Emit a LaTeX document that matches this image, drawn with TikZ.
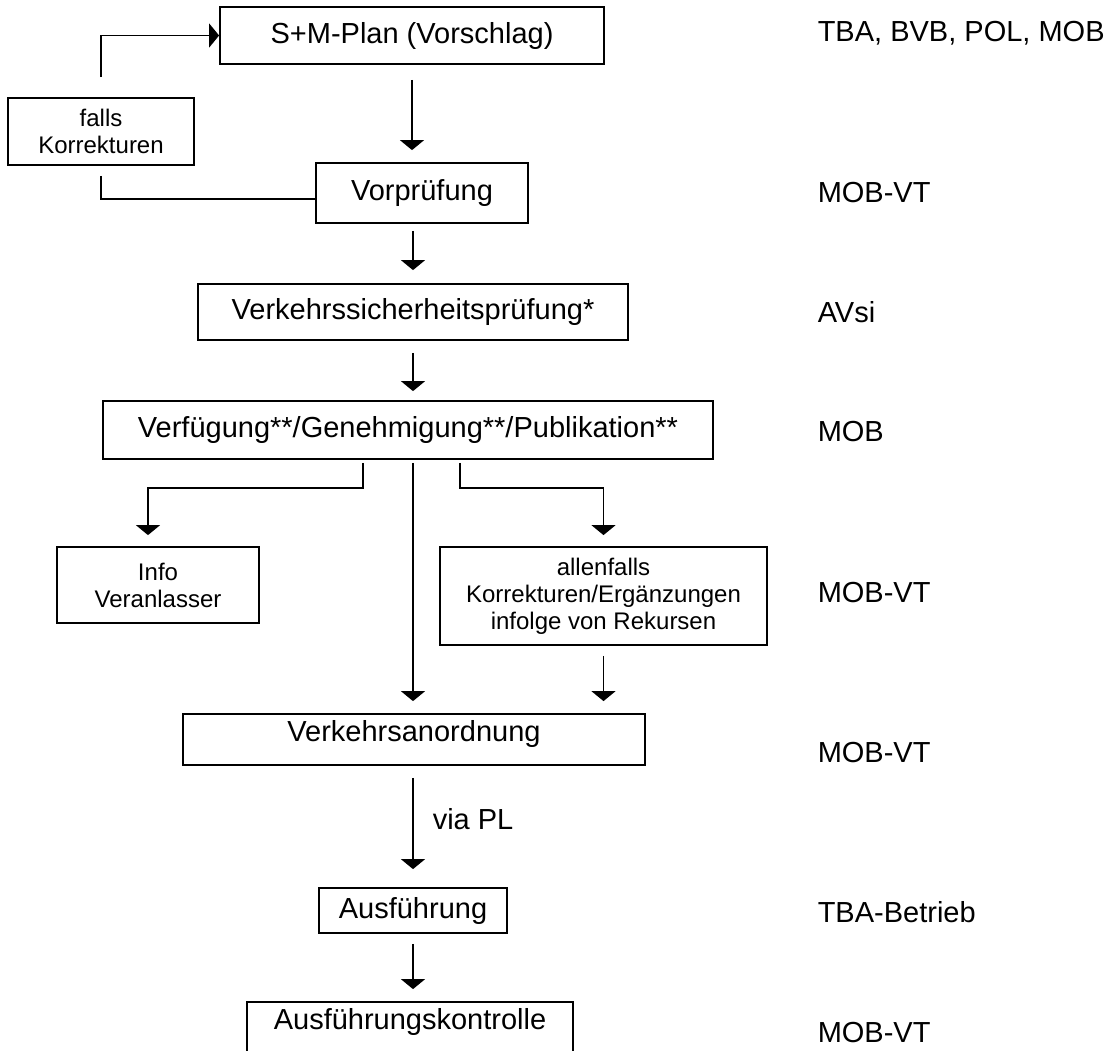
\documentclass[tikz,border=0pt]{standalone}
\usepackage{fontspec}
\setmainfont{Liberation Sans}
\usetikzlibrary{arrows.meta}
\begin{document}
\begin{tikzpicture}[x=0.5pt, y=-0.5pt, line width=0.75pt, line join=miter, >={Triangle[width=12pt,length=5pt]},
	box/.style={draw, line width=0.9pt, inner xsep=0pt, inner ysep=0pt, font=\fontsize{14.5}{17}\selectfont},
	smallbox/.style={box, align=center, font=\fontsize{12}{13.5}\selectfont},
	who/.style={anchor=base west, inner sep=0pt, font=\fontsize{14.5}{17}\selectfont}]
	\useasboundingbox (0,0) rectangle (1112,1050);
	\clip (0,0) rectangle (1112,1050);
	% Ablauf
	\node[box, minimum width=192pt, minimum height=28.5pt] (plan) at (412,35.5) {S+M-Plan (Vorschlag)};
	\node[smallbox, minimum width=93pt, minimum height=33.5pt] (korr) at (101,131.5) {falls\\Korrekturen};
	\node[box, minimum width=106pt, minimum height=30pt] (vorpr) at (422,193) {Vorprüfung};
	\node[box, minimum width=215pt, minimum height=28pt] (vsp) at (413,312) {Verkehrssicherheitsprüfung*};
	\node[box, minimum width=305pt, minimum height=29pt] (verf) at (408,430) {Verfügung**/Genehmigung**/Publikation**};
	\node[smallbox, minimum width=101pt, minimum height=38pt] (info) at (158,585) {Info\\Veranlasser};
	\node[smallbox, minimum width=163.5pt, minimum height=49pt] (rek) at (603.5,596) {allenfalls\\Korrekturen/Ergänzungen\\infolge von Rekursen};
	\node[box, minimum width=231pt, minimum height=25.5pt, text depth=8.7pt] (vao) at (414,739.5) {Verkehrsanordnung};
	\node[box, minimum width=94pt, minimum height=22.5pt] (ausf) at (413,910.5) {Ausführung};
	\node[box, minimum width=163pt, minimum height=30pt, text depth=13.2pt] (kontr) at (410,1032) {Ausführungskontrolle};
	% Verbindungen
	\draw[->, shorten <=10pt] (korr.north) |- (plan.west);
	\draw[shorten <=5pt] (korr.south) |- ([yshift=-3pt]vorpr.west);
	\draw[->, shorten <=7.5pt, shorten >=6pt] (plan.south) -- (plan.south |- vorpr.north);
	\draw[->, shorten <=3.5pt, shorten >=6.5pt] (vorpr.south -| vsp.north) -- (vsp.north);
	\draw[->, shorten <=6pt, shorten >=4.5pt] (vsp.south) -- (vsp.south |- verf.north);
	\draw[->, shorten <=1.5pt, shorten >=5.5pt] ([xshift=-22.5pt]verf.south) -- ++(0,28) -| ([xshift=-5pt]info.north);
	\draw[->, shorten <=1.5pt, shorten >=5.5pt] ([xshift=26pt]verf.south) -- ++(0,28) -| (rek.north);
	\draw[->, shorten <=1.5pt, shorten >=6pt] ([xshift=2.5pt]verf.south) -- ([xshift=2.5pt]verf.south |- vao.north);
	\draw[->, shorten <=5pt, shorten >=6pt] (rek.south) -- (rek.south |- vao.north);
	\draw[->, shorten <=6pt, shorten >=9pt] (vao.south -| ausf.north) -- (ausf.north);
	\draw[->, shorten <=5pt, shorten >=6pt] (ausf.south) -- (ausf.south |- kontr.north);
	\node[who] (via) at (432,829) {via PL};
	% Zuständigkeiten
	\node[who] (z1) at (817,41.5) {TBA, BVB, POL, MOB};
	\node[who] (z2) at (817,202) {MOB-VT};
	\node[who] (z3) at (817,322) {AVsi};
	\node[who] (z4) at (817,441) {MOB};
	\node[who] (z5) at (817,602) {MOB-VT};
	\node[who] (z6) at (817,762) {MOB-VT};
	\node[who] (z7) at (817,922) {TBA-Betrieb};
	\node[who] (z8) at (817,1042) {MOB-VT};
\end{tikzpicture}
\end{document}
